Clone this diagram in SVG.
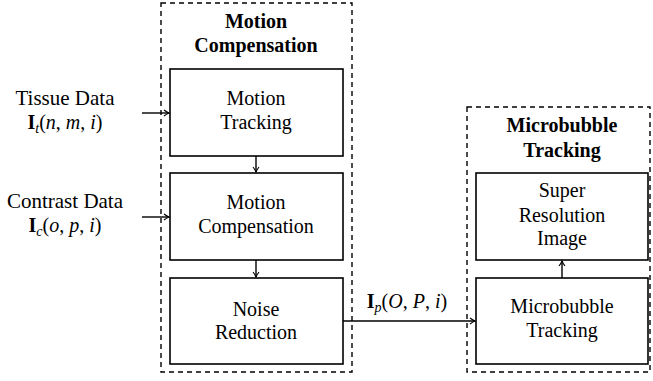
<svg xmlns="http://www.w3.org/2000/svg" width="653" height="381" viewBox="0 0 653 381">
  <style>
    text { font-family: "Liberation Serif", "Times New Roman", serif; font-size: 20px; fill: #000; text-anchor: middle; }
    .title { font-weight: bold; }
    .box { fill: #fff; stroke: #000; stroke-width: 1.6; }
    .group { fill: none; stroke: #000; stroke-width: 1.4; stroke-dasharray: 5 4; }
    .edge { fill: none; stroke: #000; stroke-width: 1.4; }
    .it { font-style: italic; }
    .bf { font-weight: bold; }
    .sub { font-size: 14px; font-style: italic; }
  </style>
  <defs>
    <marker id="tip" markerWidth="8" markerHeight="8" refX="6" refY="4" orient="auto" markerUnits="userSpaceOnUse">
      <path d="M1,1 Q4,3.3 6,4 Q4,4.7 1,7" fill="none" stroke="#000" stroke-width="1.1"/>
    </marker>
  </defs>

  <rect width="653" height="381" fill="#fff"/>

  <!-- dashed group frames -->
  <g id="grp-motion">
    <rect class="group" x="161" y="3" width="191" height="369"/>
    <text class="title" x="256" y="28">Motion</text>
    <text class="title" x="256" y="52">Compensation</text>
  </g>
  <g id="grp-micro">
    <rect class="group" x="467" y="107" width="183" height="265"/>
    <text class="title" x="562" y="132">Microbubble</text>
    <text class="title" x="562" y="157">Tracking</text>
  </g>

  <!-- input labels -->
  <g id="in-tissue">
    <text x="65" y="105" style="font-size:21px">Tissue Data</text>
    <text x="65" y="129"><tspan class="bf">I</tspan><tspan class="sub" dy="4">t</tspan><tspan dy="-4">(</tspan><tspan class="it">n</tspan>, <tspan class="it">m</tspan>, <tspan class="it">i</tspan>)</text>
  </g>
  <g id="in-contrast">
    <text x="65" y="208" style="font-size:21px">Contrast Data</text>
    <text x="65" y="232"><tspan class="bf">I</tspan><tspan class="sub" dy="4">c</tspan><tspan dy="-4">(</tspan><tspan class="it">o</tspan>, <tspan class="it">p</tspan>, <tspan class="it">i</tspan>)</text>
  </g>

  <!-- processing blocks -->
  <g id="motion-tracking">
    <rect class="box" x="170" y="69" width="173" height="87"/>
    <text x="256" y="105">Motion</text>
    <text x="256" y="129">Tracking</text>
  </g>
  <g id="motion-compensation">
    <rect class="box" x="170" y="173" width="173" height="87"/>
    <text x="256" y="209">Motion</text>
    <text x="256" y="233">Compensation</text>
  </g>
  <g id="noise-reduction">
    <rect class="box" x="170" y="278" width="173" height="86"/>
    <text x="256" y="316">Noise</text>
    <text x="256" y="339">Reduction</text>
  </g>
  <g id="super-resolution">
    <rect class="box" x="476" y="173" width="172" height="87"/>
    <text x="562" y="197">Super</text>
    <text x="562" y="222">Resolution</text>
    <text x="562" y="245">Image</text>
  </g>
  <g id="microbubble-tracking">
    <rect class="box" x="476" y="278" width="172" height="86"/>
    <text x="562" y="313">Microbubble</text>
    <text x="562" y="337">Tracking</text>
  </g>

  <!-- connectors -->
  <g id="edges">
    <line class="edge" x1="142" y1="113" x2="169" y2="113" marker-end="url(#tip)"/>
    <line class="edge" x1="142" y1="217" x2="169" y2="217" marker-end="url(#tip)"/>
    <line class="edge" x1="256" y1="156" x2="256" y2="172" marker-end="url(#tip)"/>
    <line class="edge" x1="256" y1="260" x2="256" y2="277" marker-end="url(#tip)"/>
    <line class="edge" x1="343" y1="321" x2="475" y2="321" marker-end="url(#tip)"/>
    <line class="edge" x1="562" y1="278" x2="562" y2="261" marker-end="url(#tip)"/>
    <text x="407" y="308"><tspan class="bf">I</tspan><tspan class="sub" dy="4">p</tspan><tspan dy="-4">(</tspan><tspan class="it">O</tspan>, <tspan class="it">P</tspan>, <tspan class="it">i</tspan>)</text>
  </g>
</svg>
